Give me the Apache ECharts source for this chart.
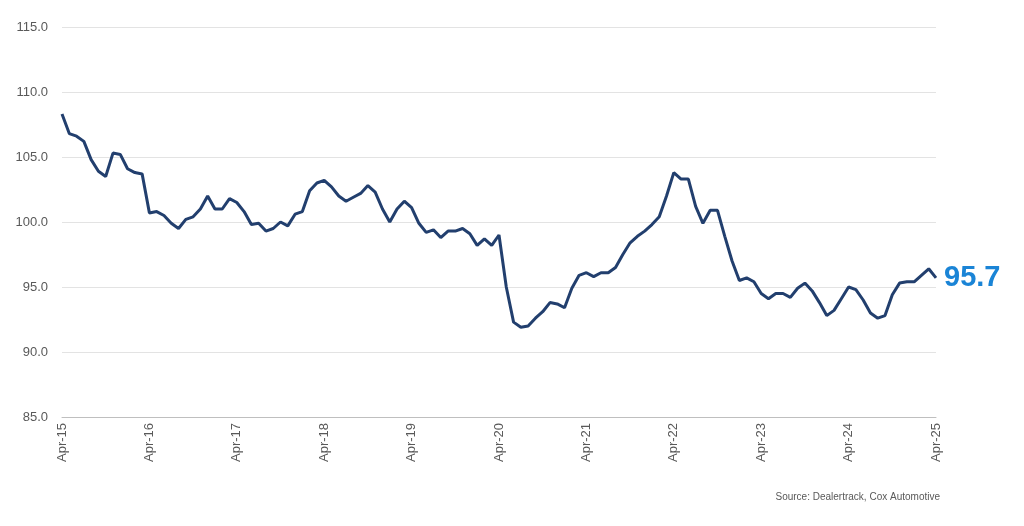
<!DOCTYPE html>
<html><head><meta charset="utf-8">
<script src="https://cdn.jsdelivr.net/npm/echarts@6/dist/echarts.min.js"></script>
<style>html,body{margin:0;background:#fff}#c{width:1024px;height:526px}</style>
</head><body><div id="c"></div>
<script>
const months=['Jan','Feb','Mar','Apr','May','Jun','Jul','Aug','Sep','Oct','Nov','Dec'];
const categories=[];
for(let k=0;k<121;k++){const m=(3+k)%12,y=15+Math.floor((3+k)/12);categories.push(months[m]+'-'+y);}
const values=[108.3,106.8,106.6,106.2,104.8,103.9,103.5,105.3,105.2,104.1,103.8,103.7,
100.7,100.8,100.5,99.9,99.5,100.2,100.4,101.0,102.0,101.0,101.0,101.8,
101.5,100.8,99.8,99.9,99.3,99.5,100.0,99.7,100.6,100.8,102.4,103.0,
103.2,102.7,102.0,101.6,101.9,102.2,102.8,102.3,101.0,100.0,101.0,101.6,
101.1,99.9,99.2,99.4,98.8,99.3,99.3,99.5,99.1,98.2,98.7,98.2,
99.0,95.0,92.3,91.9,92.0,92.6,93.1,93.8,93.7,93.4,94.9,95.9,
96.1,95.8,96.1,96.1,96.5,97.5,98.4,98.9,99.3,99.8,100.4,102.0,
103.8,103.3,103.3,101.2,99.9,100.9,100.9,98.9,97.0,95.5,95.7,95.4,
94.5,94.1,94.5,94.5,94.2,94.9,95.3,94.7,93.8,92.8,93.2,94.1,
95.0,94.8,94.0,93.0,92.6,92.8,94.4,95.3,95.4,95.4,95.9,96.4,95.7];
const lastLabel='95.7';
const source='Source: Dealertrack, Cox Automotive';
const chart=echarts.init(document.getElementById('c'));
chart.setOption({
 animation:false,
 grid:{left:62,right:88,top:27,bottom:109},
 xAxis:{type:'category',data:categories,boundaryGap:false,
  axisLine:{lineStyle:{color:'#bfbfbf'}},axisTick:{show:false},
  axisLabel:{rotate:90,interval:11,color:'#595959',fontSize:13,fontFamily:'Arial, Liberation Sans',margin:6}},
 yAxis:{type:'value',min:85,max:115,interval:5,
  axisLabel:{formatter:v=>v.toFixed(1),color:'#595959',fontSize:13,fontFamily:'Arial, Liberation Sans',margin:14},
  splitLine:{lineStyle:{color:'#e3e3e3'}},axisLine:{show:false},axisTick:{show:false}},
 series:[{type:'line',data:values,symbol:'none',lineStyle:{color:'#223f6e',width:3},
  markPoint:{symbol:'circle',symbolSize:0,data:[{coord:[120,95.7],value:lastLabel}],
   label:{show:true,position:'right',distance:8,formatter:lastLabel,color:'#1a84d6',fontSize:29,fontWeight:'bold',fontFamily:'Arial, Liberation Sans'}}}],
 graphic:[{type:'text',right:84,top:492,style:{text:source,fill:'#595959',font:'10px Arial, Liberation Sans'}}]
});
</script></body></html>
